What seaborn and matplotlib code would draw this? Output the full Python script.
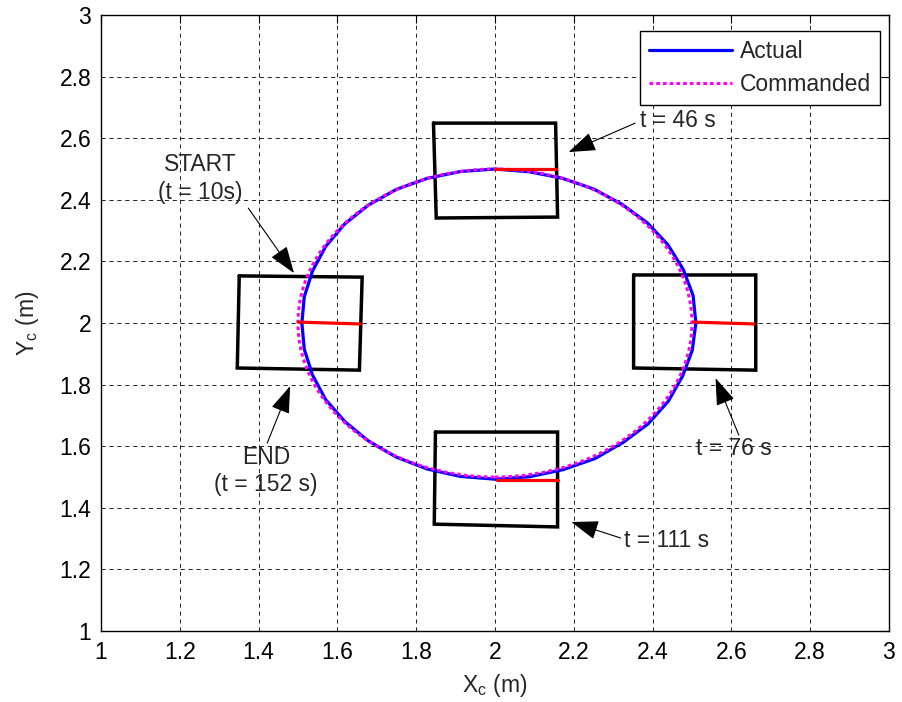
import numpy as np
import pandas as pd
import matplotlib
matplotlib.use("Agg")
import matplotlib.pyplot as plt
from matplotlib.patches import Circle
from matplotlib.lines import Line2D
import seaborn as sns

# ---------------- data ----------------
actual_x = [1.510, 1.516, 1.537, 1.570, 1.618, 1.679, 1.750, 1.829, 1.913, 2.000,
            2.087, 2.171, 2.251, 2.323, 2.387, 2.439, 2.478, 2.503, 2.510,
            2.501, 2.476, 2.440, 2.389, 2.325, 2.254, 2.173, 2.088, 2.000,
            1.912, 1.828, 1.749, 1.679, 1.619, 1.570, 1.537, 1.516, 1.510]
actual_y = [2.000, 2.085, 2.169, 2.248, 2.321, 2.383, 2.434, 2.470, 2.492, 2.500,
            2.491, 2.470, 2.435, 2.385, 2.325, 2.254, 2.174, 2.089, 2.000,
            1.912, 1.827, 1.746, 1.673, 1.612, 1.560, 1.524, 1.501, 1.493,
            1.502, 1.526, 1.565, 1.617, 1.680, 1.752, 1.831, 1.915, 2.000]

cmd_center = (2.0, 2.0)
cmd_radius = 0.5

# robot outline corners (TL, TR, BR, BL) at t = 10, 46, 76, 111 s
box_x = [[1.351, 1.663, 1.656, 1.346],
         [1.844, 2.154, 2.159, 1.851],
         [2.352, 2.662, 2.662, 2.352],
         [1.849, 2.159, 2.159, 1.846]]
box_y = [[2.153, 2.149, 1.847, 1.854],
         [2.649, 2.649, 2.344, 2.341],
         [2.156, 2.156, 1.847, 1.854],
         [1.646, 1.646, 1.338, 1.347]]

# heading segments (centre -> front)
head_x0 = [1.501, 2.000, 2.504, 2.004]
head_y0 = [2.003, 2.500, 2.003, 1.490]
head_x1 = [1.658, 2.154, 2.657, 2.159]
head_y1 = [1.997, 2.500, 1.997, 1.490]

# annotations: text, text position, arrow tail, arrow tip
ann_text = ["START\n(t = 10s)", "t = 46 s", "t = 76 s", "t = 111 s", "END\n(t = 152 s)"]
ann_tx = [1.252, 2.367, 2.510, 2.327, 1.419]
ann_ty = [2.470, 2.656, 1.591, 1.295, 1.519]
ann_ha = ["center", "left", "left", "left", "center"]
tail_x = [1.374, 2.356, 2.619, 2.319, 1.422]
tail_y = [2.373, 2.649, 1.636, 1.302, 1.610]
tip_x = [1.490, 2.187, 2.560, 2.194, 1.480]
tip_y = [2.162, 2.555, 1.821, 1.354, 1.795]

x_ticks = [1.0, 1.2, 1.4, 1.6, 1.8, 2.0, 2.2, 2.4, 2.6, 2.8, 3.0]
x_tick_labels = ["1", "1.2", "1.4", "1.6", "1.8", "2", "2.2", "2.4", "2.6", "2.8", "3"]
y_ticks = x_ticks
y_tick_labels = x_tick_labels

# ---------------- style ----------------
sns.set_style("white")
plt.rcParams["font.family"] = ["Liberation Sans", "DejaVu Sans"]
plt.rcParams["mathtext.fontset"] = "custom"
plt.rcParams["mathtext.rm"] = "Liberation Sans"
plt.rcParams["mathtext.it"] = "Liberation Sans"
FS = 16.5

fig = plt.figure(figsize=(9.03, 7.02), dpi=100)
ax = fig.add_axes([0.1118, 0.1011, 0.8726, 0.8775])

df = pd.DataFrame({"x": actual_x, "y": actual_y})
sns.lineplot(data=df, x="x", y="y", sort=False, estimator=None, color="blue",
             lw=2.3, ax=ax, legend=False, zorder=3)

ax.add_patch(Circle(cmd_center, cmd_radius, fill=False, ec="magenta", lw=2.2,
                    ls=(0, (1.2, 1.0)), zorder=4))

for bx, by in zip(box_x, box_y):
    ax.plot(bx + [bx[0]], by + [by[0]], color="black", lw=2.5,
            solid_joinstyle="miter", zorder=2)

for x0, y0, x1, y1 in zip(head_x0, head_y0, head_x1, head_y1):
    ax.plot([x0, x1], [y0, y1], color="red", lw=2.3, zorder=5)

for t, tx, ty, ha, ax0, ay0, ax1, ay1 in zip(ann_text, ann_tx, ann_ty, ann_ha,
                                              tail_x, tail_y, tip_x, tip_y):
    ax.annotate("", xy=(ax1, ay1), xytext=(ax0, ay0),
                arrowprops=dict(arrowstyle="-|>,head_length=0.85,head_width=0.3",
                                mutation_scale=20, lw=0.8, color="black",
                                shrinkA=0, shrinkB=0), zorder=6)
    ax.text(tx, ty, t, ha=ha, va="center", fontsize=FS, linespacing=1.25,
            multialignment="center", zorder=6)

ax.set_xlim(1, 3)
ax.set_ylim(1, 3)
ax.set_xticks(x_ticks)
ax.set_xticklabels(x_tick_labels)
ax.set_yticks(y_ticks)
ax.set_yticklabels(y_tick_labels)
ax.tick_params(direction="in", length=6, width=0.8, top=True, right=True,
               labelsize=FS, pad=7, colors="black")
ax.grid(True, color="black", ls=(0, (5, 4.5)), lw=0.6)
ax.set_axisbelow(True)
for s in ax.spines.values():
    s.set_color("black")
    s.set_linewidth(1.0)

ax.set_xlabel(r"X$_\mathrm{c}$ (m)", fontsize=FS, labelpad=6)
ax.set_ylabel(r"Y$_\mathrm{c}$ (m)", fontsize=FS, labelpad=13)

handles = [Line2D([], [], color="blue", lw=2.3),
           Line2D([], [], color="magenta", lw=2.2, ls=(0, (1.2, 1.0)))]
leg = ax.legend(handles, ["Actual", "Commanded"], loc="upper right",
                bbox_to_anchor=(0.9886, 0.974), fontsize=FS, frameon=True,
                fancybox=False, edgecolor="black", framealpha=1,
                handlelength=3.6, handletextpad=0.35, borderpad=0.4,
                labelspacing=0.42, borderaxespad=0)
leg.get_frame().set_linewidth(1.0)

fig.savefig("out.png", dpi=100)
